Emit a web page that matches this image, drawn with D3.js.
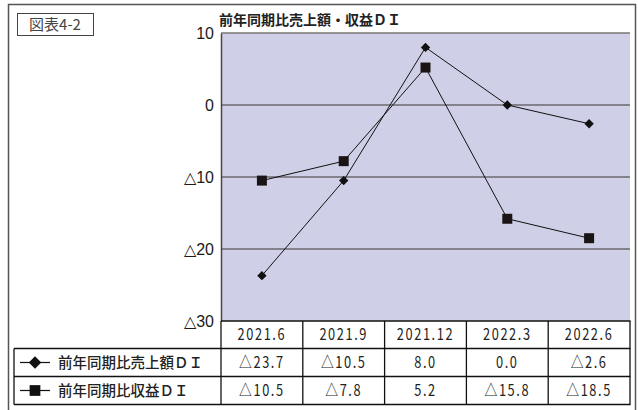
<!DOCTYPE html>
<html>
<head>
<meta charset="utf-8">
<script src="https://cdn.jsdelivr.net/npm/d3@7"></script>
<style>
  body { margin: 0; background: #fff; }
  svg text { font-family: "Noto Sans CJK JP", "Noto Sans", sans-serif; }
</style>
</head>
<body>
<script>
// periods and the two DI series (negative = △)
let periods = ['2021.6', '2021.9', '2021.12', '2022.3', '2022.6'];
let salesDI = [-23.7, -10.5, 8.0, 0.0, -2.6];
let profitDI = [-10.5, -7.8, 5.2, -15.8, -18.5];
let seriesNames = ['前年同期比売上額ＤＩ', '前年同期比収益ＤＩ'];
let yTicks = [10, 0, -10, -20, -30];

let w = 638, h = 410;

let svg = d3.select('body')
    .append('svg')
    .attr('width', w)
    .attr('height', h);

let fmt = d => d < 0 ? '△' + (-d).toFixed(1) : d.toFixed(1);
let tickFmt = d => d < 0 ? '△' + (-d) : '' + d;

let xScale = d3.scaleBand()
    .domain(periods)
    .range([221, 630]);

let yScale = d3.scaleLinear()
    .domain([-30, 10])
    .range([321, 33]);

// outer frame
svg.append('rect')
    .attr('x', 8.5).attr('y', 4.5)
    .attr('width', 627).attr('height', 420)
    .attr('fill', 'none')
    .attr('stroke', '#555')
    .attr('stroke-width', 1.5);

// 図表 label box
svg.append('rect')
    .attr('x', 17.5).attr('y', 13.5)
    .attr('width', 76).attr('height', 22)
    .attr('fill', '#fff')
    .attr('stroke', '#444');
svg.append('text')
    .attr('x', 55).attr('y', 30)
    .attr('text-anchor', 'middle')
    .style('font-size', '15px')
    .style('font-weight', 400)
    .attr('fill', '#444')
    .text('図表4-2');

// title
svg.append('text')
    .attr('x', 219).attr('y', 25)
    .style('font-size', '14px')
    .style('font-weight', 700)
    .attr('fill', '#222')
    .text('前年同期比売上額・収益ＤＩ');

// plot background
svg.append('rect')
    .attr('x', 221).attr('y', yScale(10))
    .attr('width', 409).attr('height', yScale(-30) - yScale(10))
    .attr('fill', '#cfd0e7');

// gridlines
svg.append('g')
    .selectAll('line')
    .data([0, -10, -20])
    .enter()
    .append('line')
    .attr('x1', 221).attr('x2', 630)
    .attr('y1', d => yScale(d)).attr('y2', d => yScale(d))
    .attr('stroke', '#3a3535')
    .attr('stroke-width', 1.2);

svg.append('line')
    .attr('x1', 221).attr('x2', 630)
    .attr('y1', yScale(10)).attr('y2', yScale(10))
    .attr('stroke', '#7a7676')
    .attr('stroke-width', 1.5);

// y axis
let yAxis = svg.append('g')
    .attr('transform', 'translate(221,0)')
    .call(d3.axisLeft(yScale).tickValues(yTicks).tickFormat(tickFmt).tickSize(0).tickPadding(7));
yAxis.select('.domain').attr('stroke', '#4a4444').attr('stroke-width', 1.5);
yAxis.selectAll('text')
    .style('font-family', '"Liberation Sans", Arial, sans-serif')
    .style('font-size', '16px')
    .attr('fill', '#1a1a1a');

let cx = d => xScale(d) + xScale.bandwidth() / 2;

let line = d3.line()
    .x((d, i) => cx(periods[i]))
    .y(d => yScale(d));

let diamond = d3.symbol().type(d3.symbolSquare).size(44);
let square = d3.symbol().type(d3.symbolSquare).size(100);

// 売上額 series
svg.append('path')
    .datum(salesDI)
    .attr('d', line)
    .attr('fill', 'none')
    .attr('stroke', '#111')
    .attr('stroke-width', 1);
svg.append('g')
    .selectAll('path')
    .data(salesDI)
    .enter()
    .append('path')
    .attr('d', diamond)
    .attr('transform', (d, i) => `translate(${cx(periods[i])},${yScale(d)}) rotate(45)`)
    .attr('fill', '#111');

// 収益 series
svg.append('path')
    .datum(profitDI)
    .attr('d', line)
    .attr('fill', 'none')
    .attr('stroke', '#111')
    .attr('stroke-width', 1);
svg.append('g')
    .selectAll('path')
    .data(profitDI)
    .enter()
    .append('path')
    .attr('d', square)
    .attr('transform', (d, i) => `translate(${cx(periods[i])},${yScale(d)})`)
    .attr('fill', '#1a1414');

// data table
let rowY = [321, 348.5, 376.5, 404.5];
let table = svg.append('g');

table.append('rect')
    .attr('x', 221).attr('y', rowY[0])
    .attr('width', 409).attr('height', rowY[1] - rowY[0])
    .attr('fill', '#fff');
table.append('rect')
    .attr('x', 14).attr('y', rowY[1])
    .attr('width', 616).attr('height', rowY[3] - rowY[1])
    .attr('fill', '#fff');

let hl = [[221, rowY[0]], [14, rowY[1]], [14, rowY[2]], [14, rowY[3]]];
table.selectAll('line.h')
    .data(hl)
    .enter()
    .append('line')
    .attr('x1', d => d[0]).attr('x2', 630.5)
    .attr('y1', d => d[1]).attr('y2', d => d[1])
    .attr('stroke', '#111')
    .attr('stroke-width', 1.3);

let colEdges = periods.map(p => xScale(p)).concat([630]);
table.selectAll('line.v')
    .data(colEdges)
    .enter()
    .append('line')
    .attr('x1', d => d).attr('x2', d => d)
    .attr('y1', rowY[0]).attr('y2', rowY[3])
    .attr('stroke', '#111')
    .attr('stroke-width', 1.3);
table.append('line')
    .attr('x1', 14).attr('x2', 14)
    .attr('y1', rowY[1]).attr('y2', rowY[3])
    .attr('stroke', '#111')
    .attr('stroke-width', 1.3);

// narrow, tall digits in the cells: squeeze horizontally
let cellText = (vals, row, f) => table.append('g')
    .selectAll('text')
    .data(vals)
    .enter()
    .append('text')
    .attr('transform', (d, i) => `translate(${cx(periods[i])},${(rowY[row] + rowY[row + 1]) / 2 + 5.5}) scale(0.8,1)`)
    .attr('text-anchor', 'middle')
    .style('font-size', '16px')
    .style('letter-spacing', '2px')
    .attr('fill', '#222')
    .text(f);

cellText(periods, 0, d => d);
cellText(salesDI, 1, fmt);
cellText(profitDI, 2, fmt);

// legend cells
[0, 1].forEach(k => {
    let y = (rowY[k + 1] + rowY[k + 2]) / 2;
    table.append('line')
        .attr('x1', 20).attr('x2', 50)
        .attr('y1', y).attr('y2', y)
        .attr('stroke', '#111')
        .attr('stroke-width', 1.2);
    table.append('path')
        .attr('d', k === 0 ? d3.symbol().type(d3.symbolSquare).size(78)() : d3.symbol().type(d3.symbolSquare).size(115)())
        .attr('transform', k === 0 ? `translate(35,${y}) rotate(45)` : `translate(35,${y})`)
        .attr('fill', '#111');
    table.append('text')
        .attr('x', 58).attr('y', y + 5.5)
        .style('font-size', '14.5px')
        .style('font-weight', 500)
        .attr('fill', '#222')
        .text(seriesNames[k]);
});
</script>
</body>
</html>
